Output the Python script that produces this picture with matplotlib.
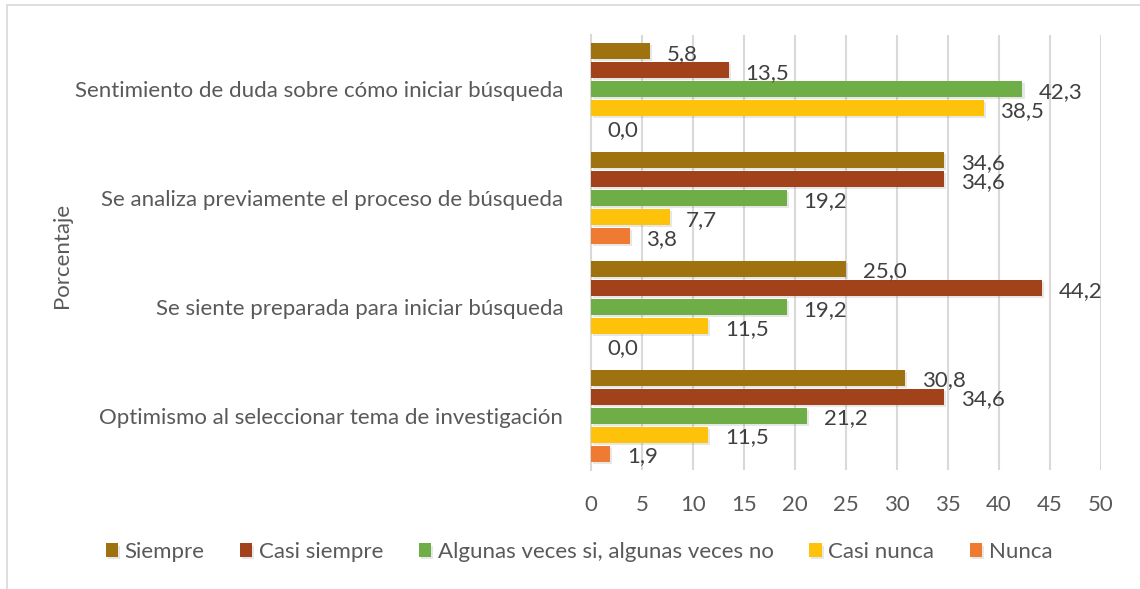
import matplotlib
matplotlib.use("Agg")
import matplotlib.pyplot as plt
import matplotlib.patheffects as pe
from matplotlib.patches import Rectangle
import numpy as np

plt.rcParams['font.family'] = ['Lato', 'DejaVu Sans']

categories = ["Sentimiento de duda sobre cómo iniciar búsqueda",
              "Se analiza previamente el proceso de búsqueda",
              "Se siente preparada para iniciar búsqueda",
              "Optimismo al seleccionar tema de investigación"]
series = ["Siempre", "Casi siempre", "Algunas veces si, algunas veces no",
          "Casi nunca", "Nunca"]
siempre = [5.8, 34.6, 25.0, 30.8]
casi_siempre = [13.5, 34.6, 44.2, 34.6]
algunas = [42.3, 19.2, 19.2, 21.2]
casi_nunca = [38.5, 7.7, 11.5, 11.5]
nunca = [0.0, 3.8, 0.0, 1.9]
values = [siempre, casi_siempre, algunas, casi_nunca, nunca]
colors = ["#9E720E", "#A2421A", "#6FAE46", "#FFC20A", "#EF7B33"]
text_col = "#595959"
fs = 16

W, H = 1140, 589
fig = plt.figure(figsize=(W / 100, H / 100), dpi=100)
ax = fig.add_axes([591 / W, 1 - 470 / H, (1101 - 591) / W, (470 - 35) / H])

# figure frame
fig.patches.append(Rectangle((7 / W, -0.02), 1.05, 1 - 5 / H + 0.02,
                             transform=fig.transFigure, fill=False,
                             edgecolor="#D9D9D9", linewidth=1.2))

y = np.arange(len(categories))
slot = 0.175
bh = 0.147
shadow = [pe.SimplePatchShadow(offset=(1.5, -1.5), alpha=0.2, shadow_rgbFace="#888888"), pe.Normal()]
for i, (name, vals) in enumerate(zip(series, values)):
    pos = y + (i - 2) * slot
    bars = ax.barh(pos, vals, height=bh, color=colors[i], label=name, zorder=3)
    for b in bars:
        b.set_path_effects(shadow)
    for p, v in zip(pos, vals):
        ax.annotate(f"{v:.1f}".replace('.', ','), (v, p), xytext=(12, -2),
                    textcoords="offset points", ha="left", va="center",
                    fontsize=fs, color="#404040", zorder=4)

ax.set_xlim(0, 50)
ax.set_ylim(-0.5, 3.5)
ax.invert_yaxis()
ax.set_xticks(np.arange(0, 51, 5))
ax.set_yticks(y)
ax.set_yticklabels(categories)
ax.tick_params(axis="both", length=0, labelsize=fs, labelcolor=text_col)
ax.tick_params(axis="x", pad=18)
ax.tick_params(axis="y", pad=20)
ax.grid(axis="x", color="#D9D9D9", linewidth=1.5, zorder=0)
for s in ["top", "right", "bottom"]:
    ax.spines[s].set_visible(False)
ax.spines["left"].set_color("#D9D9D9")
ax.spines["left"].set_linewidth(1.5)

fig.text(62 / W, 1 - 255 / H, "Porcentaje", rotation=90, ha="center",
         va="center", fontsize=fs, color=text_col)

fig.legend(loc="center", bbox_to_anchor=(579 / W, 1 - 552 / H), ncol=5,
           frameon=False, fontsize=fs, labelcolor=text_col, handlelength=0.55,
           handleheight=0.55, handletextpad=0.3, columnspacing=1.6)

fig.savefig("out.png", dpi=100)
